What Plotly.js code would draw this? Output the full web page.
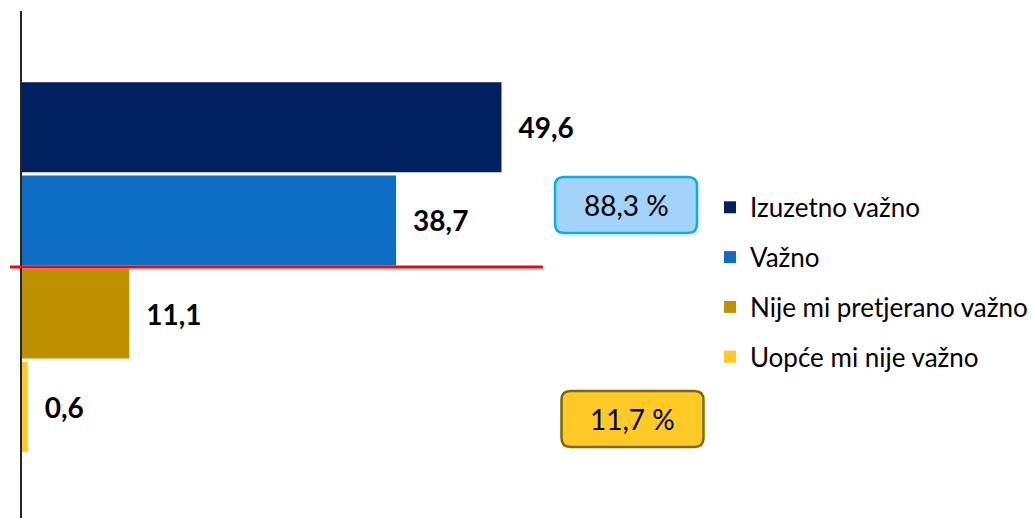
<!DOCTYPE html>
<html>
<head>
<meta charset="utf-8">
<script src="https://cdn.plot.ly/plotly-3.0.1.min.js"></script>
<style>html,body{margin:0;padding:0;background:#fff;}#chart{width:1033px;height:518px;}</style>
</head>
<body>
<div id="chart"></div>
<script>
const seriesNames = ["Izuzetno važno", "Važno", "Nije mi pretjerano važno", "Uopće mi nije važno"];
const seriesValues = [49.6, 38.7, 11.1, 0.6];
const seriesColors = ["#002060", "#0E6EC4", "#BF9000", "#FFC926"];
const category = [""];

const traces = seriesNames.map((name, i) => ({
  type: "bar",
  orientation: "h",
  name: name,
  y: category,
  x: [seriesValues[i]],
  marker: {color: seriesColors[i], line: {color: "#ffffff", width: 0}},
  texttemplate: "\u2002%{x:.1f}",
  textposition: "outside",
  cliponaxis: false,
  textfont: {family: "Lato, sans-serif", size: 28, color: "#000000", weight: "bold"},
  legendgroup: "g" + i,
  hoverinfo: "skip"
}));

const posTotal = seriesValues[0] + seriesValues[1];
const negTotal = seriesValues[2] + seriesValues[3];
const fmt = v => v.toFixed(1).replace(".", ",") + " %";

function roundRect(w, h, r) {
  return `M ${-w + r},${-h} L ${w - r},${-h} Q ${w},${-h} ${w},${-h + r} L ${w},${h - r} Q ${w},${h} ${w - r},${h} ` +
         `L ${-w + r},${h} Q ${-w},${h} ${-w},${h - r} L ${-w},${-h + r} Q ${-w},${-h} ${-w + r},${-h} Z`;
}

const layout = {
  width: 1033, height: 518,
  margin: {l: 22, r: 431, t: 11, b: 0, pad: 0},
  paper_bgcolor: "#ffffff", plot_bgcolor: "#ffffff",
  barmode: "group",
  bargap: 0.25,
  bargroupgap: 0.035,
  separators: ",.",
  showlegend: true,
  xaxis: {range: [0, 60], visible: false, fixedrange: true},
  yaxis: {
    type: "category",
    range: [0.5047, -0.5148],
    showline: true, linecolor: "#262626", linewidth: 2,
    showticklabels: false, ticks: "", showgrid: false, zeroline: false, fixedrange: true
  },
  legend: {
    x: 1.1862, xanchor: "left", y: 0.659, yanchor: "top",
    font: {family: "Lato, sans-serif", size: 26, color: "#000000"},
    traceorder: "grouped", tracegroupgap: 13,
    bgcolor: "rgba(0,0,0,0)", itemclick: false, itemdoubleclick: false
  },
  shapes: [
    {type: "line", xref: "paper", yref: "y", x0: -0.0207, x1: 0.898, y0: 0, y1: 0,
     line: {color: "#FF0000", width: 3}},
    {type: "path", xref: "paper", yref: "paper", xsizemode: "pixel", ysizemode: "pixel",
     xanchor: 1.0414, yanchor: 0.6174, path: roundRect(71, 28, 9),
     fillcolor: "#A3D3F8", line: {color: "#00B0F0", width: 2.5}},
    {type: "path", xref: "paper", yref: "paper", xsizemode: "pixel", ysizemode: "pixel",
     xanchor: 1.0526, yanchor: 0.1953, path: roundRect(71, 28, 9),
     fillcolor: "#FFC926", line: {color: "#7F6A00", width: 2.5}}
  ],
  annotations: [
    {xref: "paper", yref: "paper", x: 1.0414, y: 0.6174, text: fmt(posTotal), showarrow: false,
     xanchor: "center", yanchor: "middle", font: {family: "Lato, sans-serif", size: 28, color: "#000000"}},
    {xref: "paper", yref: "paper", x: 1.0526, y: 0.1953, text: fmt(negTotal), showarrow: false,
     xanchor: "center", yanchor: "middle", font: {family: "Lato, sans-serif", size: 28, color: "#000000"}}
  ]
};

Plotly.newPlot("chart", traces, layout, {displayModeBar: false, staticPlot: true});
</script>
</body>
</html>
